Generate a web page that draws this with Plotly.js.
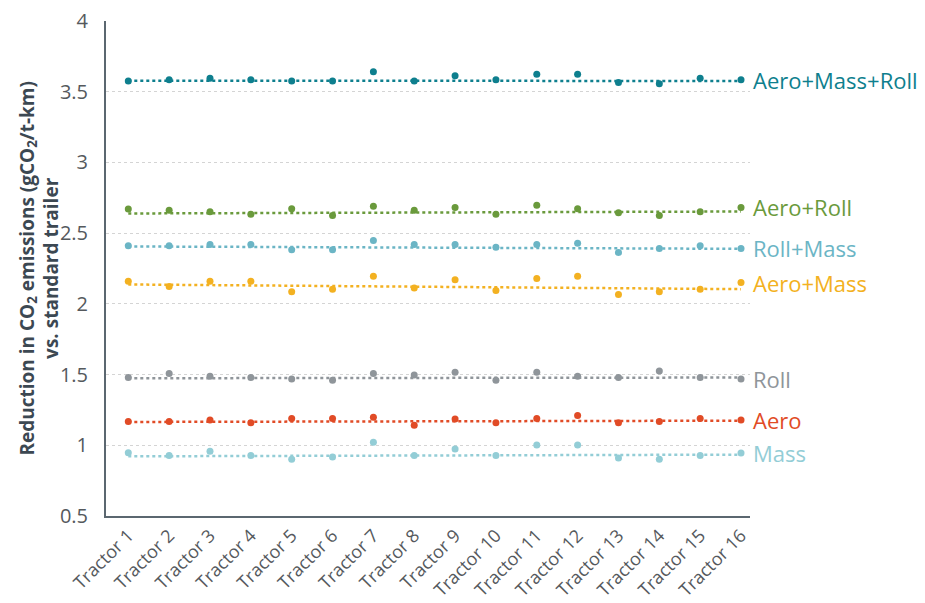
<!DOCTYPE html>
<html>
<head>
<meta charset="utf-8">
<script src="https://cdn.plot.ly/plotly-3.0.1.min.js"></script>
<style>
  html, body { margin: 0; padding: 0; background: #ffffff; }
  #chart { width: 925px; height: 603px; }
</style>
</head>
<body>
<div id="chart"></div>
<script>
// ---- Data ----
const tractors = ['Tractor 1','Tractor 2','Tractor 3','Tractor 4','Tractor 5','Tractor 6','Tractor 7','Tractor 8',
                  'Tractor 9','Tractor 10','Tractor 11','Tractor 12','Tractor 13','Tractor 14','Tractor 15','Tractor 16'];

const seriesNames = ['Aero+Mass+Roll','Aero+Roll','Roll+Mass','Aero+Mass','Roll','Aero','Mass'];

const aeroMassRoll = [3.575,3.585,3.595,3.585,3.575,3.575,3.641,3.575,3.613,3.585,3.623,3.623,3.566,3.556,3.595,3.585];
const aeroRoll     = [2.670,2.661,2.651,2.634,2.672,2.625,2.691,2.661,2.682,2.634,2.698,2.672,2.644,2.625,2.651,2.682];
const rollMass     = [2.410,2.410,2.420,2.420,2.382,2.382,2.448,2.420,2.420,2.401,2.420,2.429,2.363,2.392,2.410,2.392];
const aeroMass     = [2.160,2.123,2.160,2.160,2.085,2.104,2.196,2.113,2.170,2.094,2.179,2.196,2.066,2.085,2.104,2.151];
const roll         = [1.479,1.507,1.488,1.479,1.469,1.460,1.507,1.497,1.516,1.460,1.516,1.488,1.479,1.526,1.479,1.469];
const aero         = [1.169,1.169,1.179,1.160,1.189,1.189,1.198,1.141,1.186,1.160,1.189,1.210,1.160,1.169,1.189,1.179];
const mass         = [0.948,0.927,0.957,0.927,0.901,0.917,1.021,0.927,0.974,0.927,1.002,1.002,0.910,0.901,0.927,0.945];

// Linear trendline end values, same order as seriesNames
const trendStart = [3.578, 2.639, 2.406, 2.137, 1.474, 1.165, 0.922];
const trendEnd   = [3.576, 2.653, 2.389, 2.104, 1.479, 1.174, 0.934];

const yTickVals = [0.5, 1, 1.5, 2, 2.5, 3, 3.5, 4];
const yTickText = ['0.5', '1', '1.5', '2', '2.5', '3', '3.5', '4'];
const yTitle = 'Reduction in CO<sub>2</sub> emissions (gCO<sub>2</sub>/t-km)<br>vs. standard trailer';

// ---- Styling ----
const seriesValues = [aeroMassRoll, aeroRoll, rollMass, aeroMass, roll, aero, mass];
const colors = ['#0e7f8e', '#6a9a3c', '#6bb5c5', '#f3b121', '#8f959a', '#e14b26', '#93cdd6'];
const FONT = 'Open Sans, Lato, sans-serif';

const traces = [];
const annotations = [];
seriesNames.forEach((name, i) => {
  const last = tractors.length - 1;
  traces.push({
    type: 'scatter', mode: 'lines',
    x: [tractors[0], tractors[last]],
    y: [trendStart[i], trendEnd[i]],
    line: { color: colors[i], width: 2.5, dash: 'dot' },
    hoverinfo: 'skip', showlegend: false
  });
  traces.push({
    type: 'scatter', mode: 'markers', name: name,
    x: tractors, y: seriesValues[i],
    marker: { color: colors[i], size: 7 },
    showlegend: false
  });
  annotations.push({
    x: tractors[last], y: seriesValues[i][last],
    xref: 'x', yref: 'y', xanchor: 'left', yanchor: 'middle',
    xshift: 10, showarrow: false,
    text: name,
    font: { family: FONT, size: 22, color: colors[i] }
  });
});

annotations.push({
  xref: 'paper', yref: 'paper', x: 0, y: 0.5,
  xanchor: 'center', yanchor: 'middle', xshift: -67,
  textangle: -90, showarrow: false,
  text: '<b>' + yTitle + '</b>',
  font: { family: FONT, size: 19, color: '#3c4852' }
});

const layout = {
  width: 925, height: 603,
  margin: { l: 106, r: 175, t: 21, b: 87 },
  paper_bgcolor: '#ffffff', plot_bgcolor: '#ffffff',
  showlegend: false,
  font: { family: FONT, color: '#555a5f' },
  xaxis: {
    type: 'category',
    categoryorder: 'array', categoryarray: tractors,
    range: [-0.546, 15.22],
    showgrid: false, zeroline: false,
    showline: true, linecolor: '#5b6770', linewidth: 2,
    ticks: '', tickangle: -45,
    tickfont: { family: FONT, size: 18, color: '#55595d' }
  },
  yaxis: {
    range: [0.5, 4],
    tickvals: yTickVals,
    ticktext: yTickText,
    showgrid: true, gridcolor: '#d4d4d4', gridwidth: 1, griddash: 'dot',
    zeroline: false,
    showline: true, linecolor: '#5b6770', linewidth: 2,
    ticks: 'outside', ticklen: 12, tickcolor: 'rgba(0,0,0,0)',
    tickfont: { family: FONT, size: 20, color: '#55595d' }
  },
  annotations: annotations
};

Plotly.newPlot('chart', traces, layout, { displayModeBar: false, staticPlot: true });
</script>
</body>
</html>
